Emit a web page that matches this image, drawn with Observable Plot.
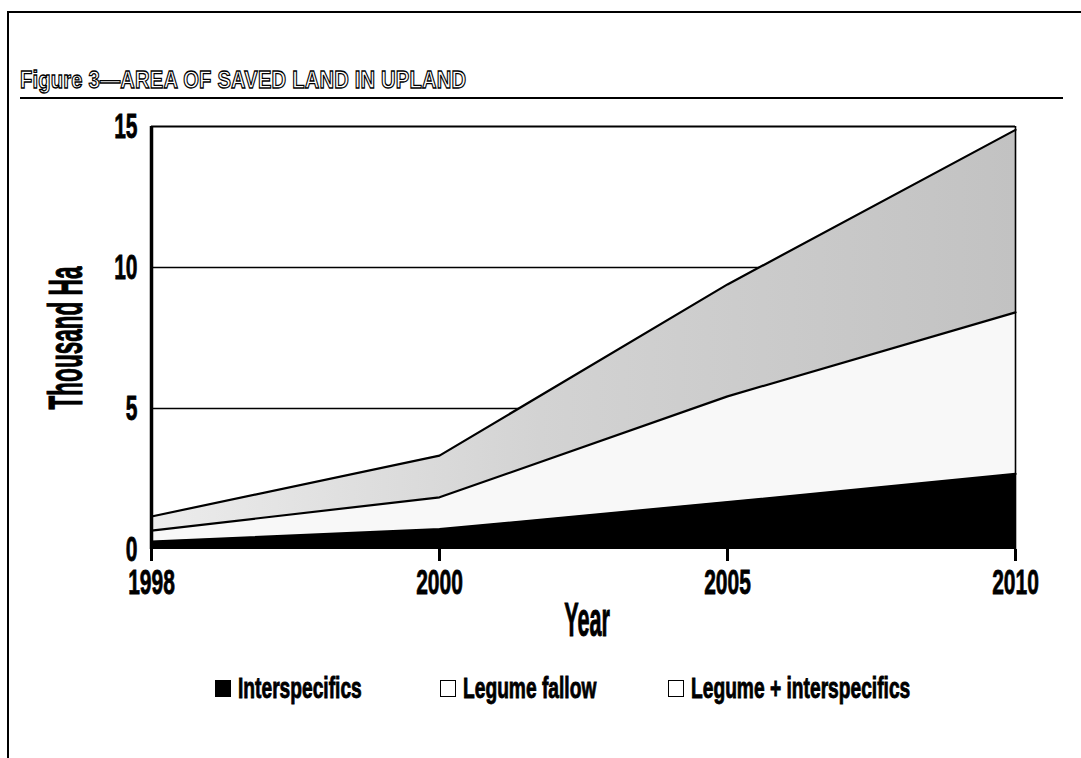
<!DOCTYPE html>
<html>
<head>
<meta charset="utf-8">
<script src="https://cdn.jsdelivr.net/npm/d3@7"></script>
<script src="https://cdn.jsdelivr.net/npm/@observablehq/plot@0.6"></script>
<style>
  body { margin: 0; background: #fff; }
  #page { position: relative; width: 1081px; height: 758px; overflow: hidden; background: #fff;
          font-family: "Liberation Sans", Arial, sans-serif; color: #000; }
  .rule { position: absolute; background: #000; }
  #title { position: absolute; left: 20px; top: 70px; font-weight: bold; font-size: 21px; line-height: 1;
           color: #fff; -webkit-text-stroke: 1.1px #000; white-space: nowrap; letter-spacing: 0.2px;
           transform: scale(0.96, 1.15); transform-origin: left bottom; }
  #chart { position: absolute; left: 0; top: 0; }
  #chart svg text { stroke: #000; stroke-width: 0.8px; }
  g[aria-label="x-axis tick"] line, g[aria-label="x-axis tick"] path, g[aria-label="x-axis"] .tick line { stroke-width: 3px; }
  .axlab { position: absolute; font-weight: bold; font-size: 48px; line-height: 1; white-space: nowrap;
           -webkit-text-stroke: 1px #000; }
  .leg { position: absolute; top: 679px; height: 22px; white-space: nowrap; }
  .sw { position: absolute; left: 0; top: 1px; width: 14px; height: 15px; border: 1.6px solid #000; background: #fff; }
  .lt { position: absolute; left: 23px; top: -6px; font-weight: bold; font-size: 30px; line-height: 1;
        transform: scaleX(0.64); transform-origin: left center; -webkit-text-stroke: 0.9px #000; }
</style>
</head>
<body>
<div id="page">
  <div class="rule" style="left:7px; top:11px; right:0; height:2px;"></div>
  <div class="rule" style="left:7px; top:11px; width:2px; bottom:0;"></div>
  <div id="title">Figure 3—AREA OF SAVED LAND IN UPLAND</div>
  <div class="rule" style="left:20px; top:97px; width:1043px; height:2px;"></div>
  <div id="chart"></div>
  <div class="axlab" id="ylab" style="left:66px; top:338px; transform: translate(-50%,-50%) rotate(-90deg) scaleX(0.47);">Thousand Ha</div>
  <div class="axlab" id="xlab" style="left:587px; top:620px; transform: translate(-50%,-50%) scaleX(0.45);">Year</div>
  <div id="legend"></div>
</div>
<script>
// ---- data ----
const years = [1998, 2000, 2005, 2010];
const seriesNames = ["Interspecifics", "Legume fallow", "Legume + interspecifics"];
const interspecifics = [0.28, 0.72, 1.68, 2.68];
const legumeFallow = [0.39, 1.13, 3.75, 5.73];
const legumeInterspecifics = [0.50, 1.48, 3.97, 6.47];
const yTicks = [0, 5, 10, 15];
const xLabel = "Year";
const yLabel = "Thousand Ha";

// ---- build table ----
const seriesValues = [interspecifics, legumeFallow, legumeInterspecifics];
const rows = [];
seriesNames.forEach((s, i) => {
  years.forEach((yr, j) => rows.push({year: yr, series: s, value: seriesValues[i][j]}));
});

const fills = ["#000000", "#f8f8f8", "url(#stipple)"];

const chart = Plot.plot({
  width: 1081,
  height: 660,
  marginTop: 126,
  marginRight: 66,
  marginBottom: 111,
  marginLeft: 151,
  style: {fontFamily: "'Liberation Sans', Arial, sans-serif", fontSize: "35px", fontWeight: "bold", color: "#000", background: "transparent"},
  x: {type: "point", domain: years, padding: 0, tickSize: 12, tickPadding: 8, tickFormat: d => String(d), label: null},
  y: {domain: [yTicks[0], yTicks[yTicks.length - 1]], ticks: yTicks, tickSize: 0, tickPadding: 14, label: null},
  color: {domain: seriesNames, range: fills},
  marks: [
    Plot.ruleY(yTicks.slice(1, -1), {stroke: "#000", strokeWidth: 1.3}),
    Plot.areaY(rows, {x: "year", y: "value", z: "series", fill: "series"}),
    Plot.lineY(rows, Plot.stackY2({x: "year", y: "value", z: "series", stroke: "#000", strokeWidth: 2.2})),
    Plot.ruleY(yTicks.slice(-1), {stroke: "#000", strokeWidth: 2}),
    Plot.ruleX(years.slice(-1), {stroke: "#000", strokeWidth: 1.6}),
    Plot.ruleX(years.slice(0, 1), {stroke: "#000", strokeWidth: 3.5})
  ]
});

// gradient standing in for the stippled screen
const ns = "http://www.w3.org/2000/svg";
const defs = document.createElementNS(ns, "defs");
defs.innerHTML = '<linearGradient id="stipple" x1="0" x2="1" y1="0" y2="0">' +
  '<stop offset="0" stop-color="#ececec"/><stop offset="0.45" stop-color="#d3d3d3"/>' +
  '<stop offset="1" stop-color="#c2c2c2"/></linearGradient>';
chart.insertBefore(defs, chart.firstChild);

document.getElementById("chart").appendChild(chart);

// condense tick labels horizontally (keep em-based y offsets untouched)
chart.querySelectorAll("text").forEach(t => {
  const xa = t.getAttribute("x");
  let shift = "";
  if (xa !== null && xa !== "" && !isNaN(+xa)) {
    shift = ` translate(${+xa},0)`;
    t.removeAttribute("x");
  }
  const tr = t.getAttribute("transform") || "";
  t.setAttribute("transform", `${tr}${shift} scale(0.6,1)`);
});

// legend
const legendLeft = [215, 440, 668];
const legend = document.getElementById("legend");
seriesNames.forEach((s, i) => {
  const item = document.createElement("div");
  item.className = "leg";
  item.style.left = legendLeft[i] + "px";
  const sw = document.createElement("span");
  sw.className = "sw";
  if (i === 0) sw.style.background = "#000";
  const lt = document.createElement("span");
  lt.className = "lt";
  lt.textContent = s;
  item.appendChild(sw);
  item.appendChild(lt);
  legend.appendChild(item);
});
document.getElementById("xlab").textContent = xLabel;
document.getElementById("ylab").textContent = yLabel;
</script>
</body>
</html>
